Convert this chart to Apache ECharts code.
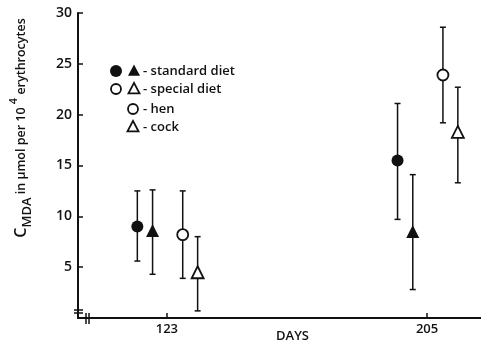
<!DOCTYPE html>
<html>
<head>
<meta charset="utf-8">
<script src="https://cdn.jsdelivr.net/npm/echarts@6/dist/echarts.min.js"></script>
<style>
  html, body { margin: 0; padding: 0; background: #fff; }
  #chart { width: 481px; height: 348px; }
</style>
</head>
<body>
<div id="chart"></div>
<script>
// sampling days and the small shift of each group around its day
const days = [123, 205];
const dayOffsets = [-9.3, -4.5, 5, 9.7];

const groupNames = ['standard diet hen', 'standard diet cock', 'special diet hen', 'special diet cock'];

// mean MDA values and error bar limits, one entry per day
const meanStdHen = [9.0, 15.5];
const lowStdHen = [5.6, 9.7];
const highStdHen = [12.5, 21.1];

const meanStdCock = [8.6, 8.5];
const lowStdCock = [4.3, 2.8];
const highStdCock = [12.6, 14.1];

const meanSpHen = [8.2, 23.9];
const lowSpHen = [3.9, 19.2];
const highSpHen = [12.5, 28.6];

const meanSpCock = [4.5, 18.3];
const lowSpCock = [0.7, 13.3];
const highSpCock = [8.0, 22.7];

const yTicks = [0, 5, 10, 15, 20, 25, 30];

const INK = '#111';
const FONT = 'Open Sans';

const groups = [
  { mean: meanStdHen, low: lowStdHen, high: highStdHen, symbol: 'circle', filled: true, size: 12 },
  { mean: meanStdCock, low: lowStdCock, high: highStdCock, symbol: 'triangle', filled: true, size: 13 },
  { mean: meanSpHen, low: lowSpHen, high: highSpHen, symbol: 'circle', filled: false, size: 11 },
  { mean: meanSpCock, low: lowSpCock, high: highSpCock, symbol: 'triangle', filled: false, size: 12 }
];

const series = [];
groups.forEach((g, gi) => {
  const x = days.map(d => d + dayOffsets[gi]);
  // error bars
  series.push({
    name: groupNames[gi] + ' sd',
    type: 'custom',
    z: 2,
    silent: true,
    data: x.map((xv, i) => [xv, g.low[i], g.high[i]]),
    renderItem: function (params, api) {
      const lo = api.coord([api.value(0), api.value(1)]);
      const hi = api.coord([api.value(0), api.value(2)]);
      const cap = 3;
      const st = { stroke: INK, lineWidth: 1.5 };
      return {
        type: 'group',
        children: [
          { type: 'line', shape: { x1: lo[0], y1: lo[1], x2: hi[0], y2: hi[1] }, style: st },
          { type: 'line', shape: { x1: lo[0] - cap, y1: lo[1], x2: lo[0] + cap, y2: lo[1] }, style: st },
          { type: 'line', shape: { x1: hi[0] - cap, y1: hi[1], x2: hi[0] + cap, y2: hi[1] }, style: st }
        ]
      };
    }
  });
  // mean markers
  series.push({
    name: groupNames[gi],
    type: 'scatter',
    z: 5,
    symbol: g.symbol,
    symbolSize: g.size,
    itemStyle: g.filled
      ? { color: INK, opacity: 1 }
      : { color: '#fff', borderColor: INK, borderWidth: 1.8, opacity: 1 },
    data: x.map((xv, i) => [xv, g.mean[i]])
  });
});

function tri(cx, cy, s) {
  return [[cx, cy - s * 0.55], [cx + s * 0.5, cy + s * 0.4], [cx - s * 0.5, cy + s * 0.4]];
}
const legendText = { fill: INK, font: '600 13px "Open Sans"', textVerticalAlign: 'middle' };
const legendGraphics = [
  { type: 'circle', shape: { cx: 116, cy: 71, r: 6 }, style: { fill: INK } },
  { type: 'polygon', shape: { points: tri(134, 71, 12) }, style: { fill: INK } },
  { type: 'text', x: 143, y: 71, style: Object.assign({ text: '- standard diet' }, legendText) },
  { type: 'circle', shape: { cx: 116, cy: 89, r: 5 }, style: { fill: '#fff', stroke: INK, lineWidth: 1.8 } },
  { type: 'polygon', shape: { points: tri(134, 89, 11) }, style: { fill: '#fff', stroke: INK, lineWidth: 1.8 } },
  { type: 'text', x: 143, y: 89, style: Object.assign({ text: '- special diet' }, legendText) },
  { type: 'circle', shape: { cx: 133, cy: 109, r: 5 }, style: { fill: '#fff', stroke: INK, lineWidth: 1.8 } },
  { type: 'text', x: 143, y: 109, style: Object.assign({ text: '- hen' }, legendText) },
  { type: 'polygon', shape: { points: tri(133, 127, 11) }, style: { fill: '#fff', stroke: INK, lineWidth: 1.8 } },
  { type: 'text', x: 143, y: 127, style: Object.assign({ text: '- cock' }, legendText) }
];

// axis break marks
const breakStyle = { stroke: INK, lineWidth: 1.5 };
const breakGraphics = [
  { type: 'line', shape: { x1: 74, y1: 310, x2: 83, y2: 310 }, style: breakStyle },
  { type: 'line', shape: { x1: 74, y1: 313, x2: 83, y2: 313 }, style: breakStyle },
  { type: 'line', shape: { x1: 86, y1: 313, x2: 86, y2: 324 }, style: breakStyle },
  { type: 'line', shape: { x1: 89, y1: 313, x2: 89, y2: 324 }, style: breakStyle }
];

const yName = {
  type: 'text',
  x: 21,
  y: 128,
  rotation: Math.PI / 2,
  style: {
    text: '{c|C}{sub|MDA}{t| in μmol per 10 }{sup|4}{t| erythrocytes}',
    align: 'center',
    verticalAlign: 'middle',
    fill: INK,
    rich: {
      c: { fontFamily: FONT, fontSize: 16, fontWeight: 600, lineHeight: 26, color: INK },
      sub: { fontFamily: FONT, fontSize: 13, fontWeight: 600, lineHeight: 13, verticalAlign: 'bottom', color: INK },
      t: { fontFamily: FONT, fontSize: 12.5, fontWeight: 600, lineHeight: 26, color: INK },
      sup: { fontFamily: FONT, fontSize: 11, fontWeight: 600, lineHeight: 11, verticalAlign: 'top', color: INK }
    }
  }
};

const chart = echarts.init(document.getElementById('chart'));
chart.setOption({
  animation: false,
  backgroundColor: '#fff',
  grid: { left: 78, right: 0, top: 13, bottom: 30, containLabel: false, outerBoundsMode: 'none' },
  xAxis: {
    type: 'value',
    min: 95,
    max: 222,
    name: 'DAYS',
    nameLocation: 'middle',
    nameGap: 12,
    nameMoveOverlap: false,
    nameTextStyle: { color: INK, fontFamily: FONT, fontSize: 13, fontWeight: 600, padding: [0, 0, 0, 26] },
    splitLine: { show: false },
    axisLine: { show: true, lineStyle: { color: INK, width: 2 } },
    axisTick: { show: true, inside: true, length: 5, customValues: days, lineStyle: { color: INK, width: 1.5 } },
    axisLabel: { customValues: days, color: INK, fontFamily: FONT, fontSize: 13, fontWeight: 600, margin: 5 }
  },
  yAxis: {
    type: 'value',
    min: 0,
    max: 30,
    interval: 5,
    splitLine: { show: false },
    axisLine: { show: true, lineStyle: { color: INK, width: 2 } },
    axisTick: { show: true, inside: true, length: 5, customValues: yTicks.slice(1), lineStyle: { color: INK, width: 1.5 } },
    axisLabel: {
      customValues: yTicks.slice(1),
      color: INK, fontFamily: FONT, fontSize: 14, fontWeight: 600, margin: 6
    }
  },
  graphic: [yName].concat(legendGraphics, breakGraphics),
  series: series
});
</script>
</body>
</html>
